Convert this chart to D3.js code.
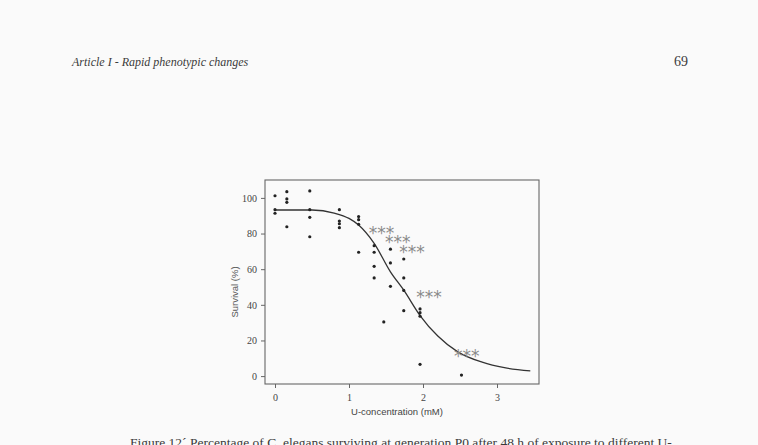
<!DOCTYPE html>
<html><head><meta charset="utf-8">
<script src="https://cdn.jsdelivr.net/npm/d3@7"></script>
<style>
html,body{margin:0;padding:0;background:#fafafa;}
svg{display:block;}
</style></head>
<body>
<script>
// ---- data ----
const concentration = [0,0,0, 0.16,0.16,0.16,0.16, 0.47,0.47,0.47,0.47, 0.87,0.87,0.87,0.87,
  1.13,1.13,1.13,1.13, 1.34,1.34,1.34,1.34, 1.47, 1.56,1.56,1.56, 1.74,1.74,1.74,1.74,
  1.96,1.96,1.96,1.96, 2.52];
const survival = [101.2,93.4,91.4, 103.5,99.4,97.5,83.8, 103.9,93.4,89.1,78.2, 93.4,87.0,85.5,83.3,
  89.5,87.8,85.2,69.5, 73.2,69.5,61.6,55.1, 30.4, 71.2,63.5,50.4, 65.7,55.1,48.1,36.7,
  37.7,35.6,33.6,6.6, 0.6];
const curveX = [0, 0.5, 0.8, 1.0, 1.13, 1.34, 1.56, 1.74, 1.96, 2.2, 2.47, 2.8, 3.1, 3.45];
const curveY = [93.2, 93.2, 91.5, 88.5, 84.8, 74.5, 58.5, 48.2, 34, 22.5, 13.6, 7.8, 4.7, 2.9];
const starX = [1.44, 1.66, 1.85, 2.08, 2.59];
const starY = [82.4, 77.3, 71.7, 46.8, 13.4];
const starLabels = ["***","***","***","***","***"];
const xTicks = [0,1,2,3];
const yTicks = [0,20,40,60,80,100];

const W = 758, H = 445;
const svg = d3.select("body").append("svg").attr("width", W).attr("height", H);
svg.append("rect").attr("width", W).attr("height", H).attr("fill", "#fafafa");

const x = d3.scaleLinear().domain([0,3]).range([275,497]);
const y = d3.scaleLinear().domain([0,100]).range([376.1,197.9]);

// page header
svg.append("text").attr("x",72).attr("y",66)
  .attr("font-family","Liberation Serif, serif").attr("font-style","italic")
  .attr("font-size",12).attr("fill","#3a3a3a").text("Article I - Rapid phenotypic changes");
svg.append("text").attr("x",688).attr("y",66).attr("text-anchor","end")
  .attr("font-family","Liberation Serif, serif")
  .attr("font-size",14).attr("fill","#3a3a3a").text("69");

// frame
svg.append("rect").attr("x",265).attr("y",180).attr("width",274).attr("height",204)
  .attr("fill","none").attr("stroke","#666").attr("stroke-width",1.1);

// axes
const gx = svg.append("g").attr("transform","translate(0,384)")
  .call(d3.axisBottom(x).tickValues(xTicks).tickSize(4).tickPadding(6).tickFormat(d3.format("d")));
const gy = svg.append("g").attr("transform","translate(265,0)")
  .call(d3.axisLeft(y).tickValues(yTicks).tickSize(4).tickPadding(4).tickFormat(d3.format("d")));
[gx,gy].forEach(g=>{
  g.select(".domain").remove();
  g.selectAll("line").attr("stroke","#666");
  g.selectAll("text").attr("font-family","Liberation Serif, serif").attr("font-size",10).attr("fill","#444");
});

// axis titles
svg.append("text").attr("x",397).attr("y",415).attr("text-anchor","middle")
  .attr("font-family","Liberation Sans Narrow, Liberation Sans, sans-serif").attr("font-size",9.5)
  .attr("fill","#444").text("U-concentration (mM)");
svg.append("text").attr("transform","translate(238,292) rotate(-90)").attr("text-anchor","middle")
  .attr("font-family","Liberation Sans Narrow, Liberation Sans, sans-serif").attr("font-size",9.5)
  .attr("fill","#555").text("Survival (%)");

// fitted curve
const line = d3.line().x(d=>x(d[0])).y(d=>y(d[1])).curve(d3.curveMonotoneX);
svg.append("path").datum(d3.zip(curveX, curveY)).attr("d", line)
  .attr("fill","none").attr("stroke","#333").attr("stroke-width",1.3);

// points
svg.append("g").selectAll("circle").data(d3.zip(concentration, survival)).join("circle")
  .attr("cx", d=>x(d[0])).attr("cy", d=>y(d[1])).attr("r",1.6).attr("fill","#222");

// significance stars
svg.append("g").selectAll("text").data(d3.zip(starX, starY, starLabels)).join("text")
  .attr("x", d=>x(d[0])).attr("y", d=>y(d[1])+10).attr("text-anchor","middle")
  .attr("font-family","DejaVu Sans, sans-serif").attr("font-size",17)
  .attr("fill","#8a8a8a").text(d=>d[2]);

// caption (cut off at page bottom)
svg.append("text").attr("x",130).attr("y",447)
  .attr("font-family","Liberation Serif, serif").attr("font-size",13.5).attr("fill","#3a3a3a")
  .text("Figure 12´ Percentage of C. elegans surviving at generation P0 after 48 h of exposure to different U-");
</script>
</body></html>
